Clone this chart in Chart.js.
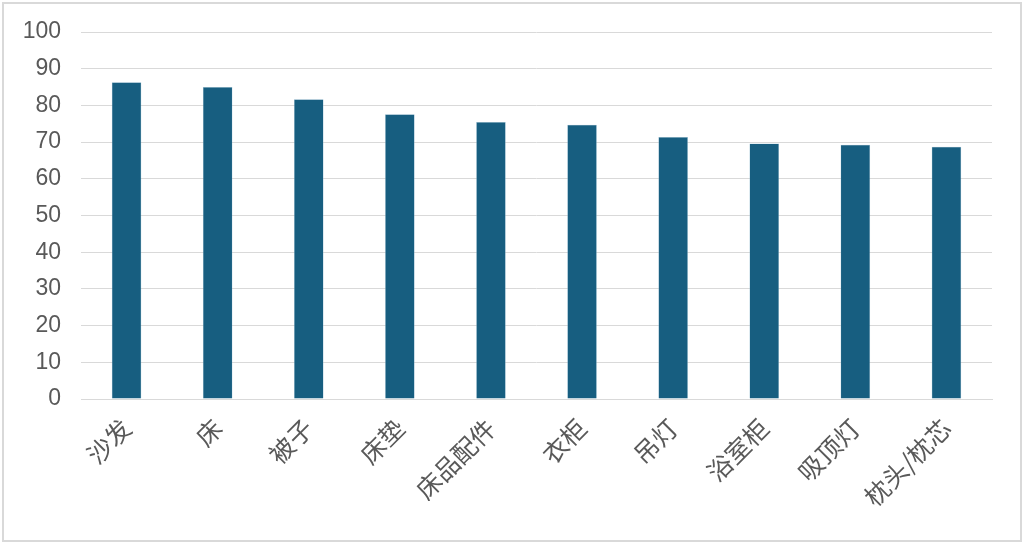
<!DOCTYPE html>
<html><head><meta charset="utf-8">
<script src="https://cdn.jsdelivr.net/npm/chart.js@4/dist/chart.umd.min.js"></script>
<style>
html,body{margin:0;padding:0;background:#fff;}
#box{position:absolute;left:2px;top:2px;width:1016px;height:536px;border:2px solid #d9d9d9;background:#fff;}
#c{display:block;}
</style></head><body>
<div id="box"><canvas id="c" width="1016" height="536"></canvas></div>
<script>
const categories = ["沙发","床","被子","床垫","床品配件","衣柜","吊灯","浴室柜","吸顶灯","枕头/枕芯"];
const values = [86.3, 85.0, 81.7, 77.6, 75.5, 74.7, 71.4, 69.6, 69.3, 68.7];
const yTicks = [0,10,20,30,40,50,60,70,80,90,100];

new Chart(document.getElementById('c'), {
  type: 'bar',
  data: { labels: categories, datasets: [{ data: values, backgroundColor: '#175e80', borderColor:'#9fc3d6', borderWidth:0.5, barPercentage: 0.65, categoryPercentage: 0.5 }] },
  options: {
    responsive: false, animation: false,
    layout: { autoPadding: false, padding: { left: 20, right: 28, top: 28, bottom: 0 } },
    plugins: { legend: { display: false }, tooltip: { enabled: false } },
    scales: {
      x: {
        afterFit: (s) => { s.paddingLeft = 0; s.paddingRight = 0; s.height = 141; },
        grid: { display: false },
        border: { color: '#d9d9d9', width: 1 },
        ticks: { color: '#595959', font: { family: '"Noto Sans CJK SC"', size: 25 }, minRotation: 45, maxRotation: 45, padding: 6 }
      },
      y: {
        min: 0, max: 100,
        afterBuildTicks: (ax) => { ax.ticks = yTicks.map(v => ({ value: v })); },
        afterFit: (s) => { s.paddingTop = 0; s.paddingBottom = 0; s.width = 57; },
        grid: { color: '#d9d9d9', lineWidth: 1, drawTicks: false },
        border: { display: false },
        ticks: { color: '#595959', font: { family: 'Arial, "Liberation Sans"', size: 23 }, padding: 20 }
      }
    }
  }
});
</script>
</body></html>
